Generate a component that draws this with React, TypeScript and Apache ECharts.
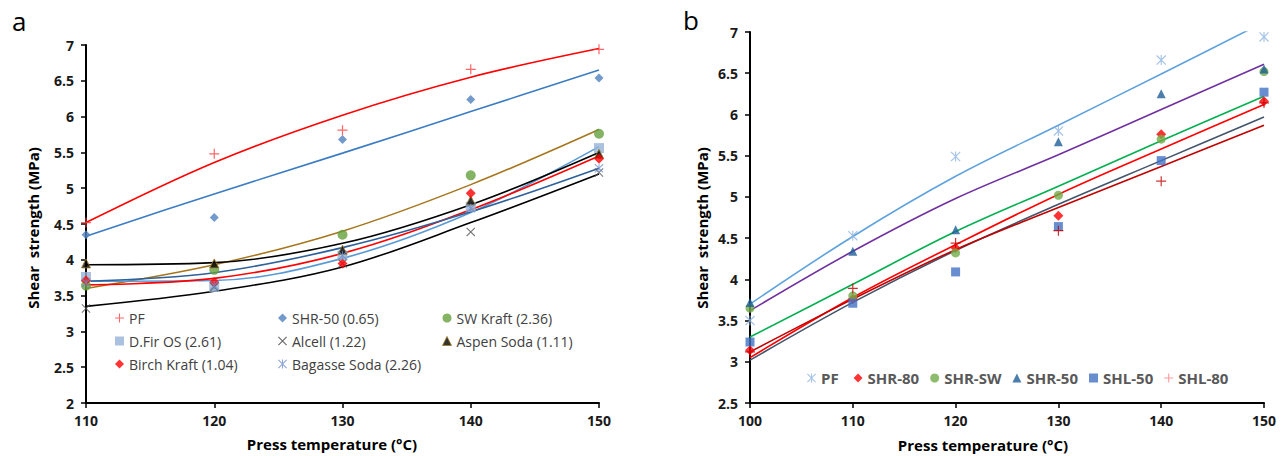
import React, { useEffect, useRef } from "react";
import * as echarts from "echarts";

// ---- panel a: press temperature vs shear strength, various lignins ----
const tempsA = [110, 120, 130, 140, 150];
const yTicksA = { min: 2, max: 7, step: 0.5 };

const pfA = [4.52, 5.48, 5.81, 6.66, 6.94];
const shr50A = [4.35, 4.59, 5.68, 6.24, 6.54];
const swKraftA = [3.64, 3.86, 4.35, 5.18, 5.76];
const dFirA = [3.76, 3.62, 4.06, 4.74, 5.56];
const alcellA = [3.32, 3.62, 3.95, 4.39, 5.22];
const aspenA = [3.95, 3.95, 4.14, 4.83, 5.48];
const birchA = [3.71, 3.69, 3.95, 4.93, 5.41];
const bagasseA = [3.68, 3.64, 4.06, 4.72, 5.28];

// trend lines of panel a
const pfTrendA = [4.52, 5.36, 6.02, 6.55, 6.95];
const shr50TrendA = [4.33, 4.92, 5.49, 6.07, 6.65];
const swKraftTrendA = [3.6, 3.93, 4.4, 5.05, 5.82];
const dFirTrendA = [3.7, 3.71, 4.02, 4.66, 5.58];
const alcellTrendA = [3.35, 3.56, 3.9, 4.52, 5.2];
const aspenTrendA = [3.93, 3.96, 4.23, 4.77, 5.5];
const birchTrendA = [3.65, 3.74, 4.09, 4.7, 5.45];
const bagasseTrendA = [3.7, 3.82, 4.17, 4.67, 5.28];

// ---- panel b: PF vs SHR / SHL formulations ----
const tempsB = [100, 110, 120, 130, 140, 150];
const yTicksB = { min: 2.5, max: 7, step: 0.5 };

const pfB = [3.5, 4.53, 5.49, 5.8, 6.66, 6.94];
const shr80B = [3.14, 3.76, 4.38, 4.77, 5.76, 6.16];
const shrSwB = [3.65, 3.8, 4.32, 5.02, 5.7, 6.52];
const shr50B = [3.72, 4.34, 4.6, 5.67, 6.25, 6.55];
const shl50B = [3.24, 3.71, 4.09, 4.64, 5.44, 6.27];
const shl80B = [3.12, 3.89, 4.44, 4.59, 5.19, 6.14];

// trend lines of panel b
const pfTrendB = [3.7, 4.52, 5.25, 5.87, 6.49, 7.12];
const shr80TrendB = [3.05, 3.78, 4.42, 5.03, 5.58, 6.12];
const shrSwTrendB = [3.3, 3.94, 4.58, 5.13, 5.68, 6.22];
const shr50TrendB = [3.62, 4.34, 4.98, 5.51, 6.06, 6.61];
const shl50TrendB = [3.02, 3.72, 4.35, 4.91, 5.44, 5.97];
const shl80TrendB = [3.12, 3.76, 4.36, 4.87, 5.37, 5.87];

const FONT = '"Open Sans", "Noto Sans", sans-serif';

// marker shapes
const plusSym = "path://M4.4,0H5.6V4.4H10V5.6H5.6V10H4.4V5.6H0V4.4H4.4Z";
const crossBody = "M0,0.85L0.85,0L10,9.15L9.15,10Z M9.15,0L10,0.85L0.85,10L0,9.15Z";
const crossSym = "path://" + crossBody;
const starSym = "path://" + crossBody + " M4.45,0H5.55V10H4.45Z";

const pts = (xs: number[], ys: number[]) => xs.map((x, i) => [x, ys[i]]);

function trend(name: string, xs: number[], ys: number[], color: string, idx: number) {
  return {
    type: "line",
    name,
    xAxisIndex: idx,
    yAxisIndex: idx,
    data: pts(xs, ys),
    smooth: 0.35,
    symbol: "none",
    showSymbol: false,
    silent: true,
    clip: true,
    lineStyle: { color, width: 1.6 },
    z: 2,
  };
}

function marks(
  name: string,
  xs: number[],
  ys: number[],
  symbol: string,
  size: number,
  color: string,
  idx: number,
  extra: Record<string, unknown> = {}
) {
  return {
    type: "scatter",
    name,
    xAxisIndex: idx,
    yAxisIndex: idx,
    data: pts(xs, ys),
    symbol,
    symbolSize: size,
    itemStyle: { color, ...extra },
    silent: true,
    z: 3,
  };
}

function xAxis(idx: number, min: number, max: number) {
  return {
    gridIndex: idx,
    type: "value",
    min,
    max,
    interval: 10,
    axisLine: { show: true, lineStyle: { color: "#000", width: 2 } },
    axisTick: { show: true, length: 5, lineStyle: { color: "#000", width: 1.5 } },
    axisLabel: { fontFamily: FONT, fontSize: 14, fontWeight: "bold", color: "#1a1a1a", margin: 10 },
    splitLine: { show: false },
  };
}

function yAxis(idx: number, t: { min: number; max: number; step: number }) {
  return {
    gridIndex: idx,
    type: "value",
    min: t.min,
    max: t.max,
    interval: t.step,
    axisLine: { show: true, lineStyle: { color: "#000", width: 2 } },
    axisTick: { show: true, length: 5, lineStyle: { color: "#000", width: 1.5 } },
    axisLabel: { fontFamily: FONT, fontSize: 14, fontWeight: "bold", color: "#1a1a1a", margin: 12 },
    splitLine: { show: false },
  };
}

const legendA = (left: number, items: { name: string; icon: string; itemStyle: Record<string, unknown> }[]) => ({
  orient: "vertical",
  left,
  top: 310,
  padding: 0,
  itemGap: 7,
  itemWidth: 9,
  itemHeight: 9,
  selectedMode: false,
  textStyle: { fontFamily: FONT, fontSize: 14, color: "#404040", lineHeight: 16 },
  data: items,
});

export default function App() {
  const ref = useRef<HTMLDivElement>(null);

  useEffect(() => {
    if (!ref.current) return;
    const chart = echarts.init(ref.current, undefined, { renderer: "svg" });

    const option = {
      animation: false,
      backgroundColor: "#fff",
      grid: [
        { left: 86, top: 45, width: 513, height: 358 },
        { left: 750, top: 32, width: 514, height: 371 },
      ],
      xAxis: [xAxis(0, 110, 150), xAxis(1, 100, 150)],
      yAxis: [yAxis(0, yTicksA), yAxis(1, yTicksB)],
      legend: [
        legendA(115, [
          { name: "PF", icon: plusSym, itemStyle: { color: "#FF4040" } },
          { name: "D.Fir OS (2.61)", icon: "rect", itemStyle: { color: "#95B3D7" } },
          { name: "Birch Kraft (1.04)", icon: "diamond", itemStyle: { color: "#FF0000" } },
        ]),
        legendA(278, [
          { name: "SHR-50 (0.65)", icon: "diamond", itemStyle: { color: "#4F81BD" } },
          { name: "Alcell (1.22)", icon: crossSym, itemStyle: { color: "#404040" } },
          { name: "Bagasse Soda (2.26)", icon: starSym, itemStyle: { color: "#6E8FCB" } },
        ]),
        legendA(442, [
          { name: "SW Kraft (2.36)", icon: "circle", itemStyle: { color: "#64A03C" } },
          {
            name: "Aspen Soda (1.11)",
            icon: "triangle",
            itemStyle: { color: "#000", borderColor: "#9C7A2B", borderWidth: 1 },
          },
        ]),
        {
          orient: "horizontal",
          left: 807,
          top: 369,
          padding: 0,
          itemGap: 11,
          itemWidth: 9,
          itemHeight: 9,
          selectedMode: false,
          textStyle: { fontFamily: FONT, fontSize: 15, fontWeight: "bold", color: "#595959", lineHeight: 18 },
          data: [
            { name: "PF ", icon: starSym, itemStyle: { color: "#8DB4E2" } },
            { name: "SHR-80", icon: "diamond", itemStyle: { color: "#FF0000" } },
            { name: "SHR-SW", icon: "circle", itemStyle: { color: "#70AD47" } },
            { name: "SHR-50", icon: "triangle", itemStyle: { color: "#1F5E99" } },
            { name: "SHL-50", icon: "rect", itemStyle: { color: "#4472C4" } },
            { name: "SHL-80", icon: plusSym, itemStyle: { color: "#FF8080" } },
          ],
        },
      ],
      graphic: [
        {
          type: "text",
          x: 12,
          y: 21,
          style: { text: "a", font: `26px ${FONT}`, fill: "#000", align: "left", verticalAlign: "middle" },
        },
        {
          type: "text",
          x: 683,
          y: 20,
          style: { text: "b", font: `26px ${FONT}`, fill: "#000", align: "left", verticalAlign: "middle" },
        },
        {
          type: "text",
          x: 332,
          y: 444,
          style: { text: "Press temperature (°C)", font: `bold 15px ${FONT}`, fill: "#000", align: "center", verticalAlign: "middle" },
        },
        {
          type: "text",
          x: 983,
          y: 445,
          style: { text: "Press temperature (°C)", font: `bold 15px ${FONT}`, fill: "#000", align: "center", verticalAlign: "middle" },
        },
        {
          type: "text",
          x: 33,
          y: 228,
          rotation: Math.PI / 2,
          style: { text: "Shear  strength (MPa)", font: `bold 15px ${FONT}`, fill: "#000", align: "center", verticalAlign: "middle" },
        },
        {
          type: "text",
          x: 702,
          y: 228,
          rotation: Math.PI / 2,
          style: { text: "Shear  strength (MPa)", font: `bold 15px ${FONT}`, fill: "#000", align: "center", verticalAlign: "middle" },
        },
      ],
      series: [
        // panel a
        trend("PF trend", tempsA, pfTrendA, "#FF0000", 0),
        trend("SHR-50 (0.65) trend", tempsA, shr50TrendA, "#3C7CC2", 0),
        trend("SW Kraft (2.36) trend", tempsA, swKraftTrendA, "#A6761D", 0),
        trend("D.Fir OS (2.61) trend", tempsA, dFirTrendA, "#5B9BD5", 0),
        trend("Alcell (1.22) trend", tempsA, alcellTrendA, "#000000", 0),
        trend("Aspen Soda (1.11) trend", tempsA, aspenTrendA, "#000000", 0),
        trend("Birch Kraft (1.04) trend", tempsA, birchTrendA, "#FF0000", 0),
        trend("Bagasse Soda (2.26) trend", tempsA, bagasseTrendA, "#2E6099", 0),
        marks("PF", tempsA, pfA, plusSym, 10, "#FF4040", 0),
        marks("SHR-50 (0.65)", tempsA, shr50A, "diamond", 9, "#4F81BD", 0),
        marks("SW Kraft (2.36)", tempsA, swKraftA, "circle", 10, "#64A03C", 0),
        marks("D.Fir OS (2.61)", tempsA, dFirA, "rect", 10, "#95B3D7", 0),
        marks("Alcell (1.22)", tempsA, alcellA, crossSym, 9, "#595959", 0),
        marks("Aspen Soda (1.11)", tempsA, aspenA, "triangle", 9, "#000000", 0, {
          borderColor: "#9C7A2B",
          borderWidth: 1,
        }),
        marks("Birch Kraft (1.04)", tempsA, birchA, "diamond", 10, "#FF0000", 0),
        marks("Bagasse Soda (2.26)", tempsA, bagasseA, starSym, 9, "#6E8FCB", 0),
        // panel b
        trend("PF  trend", tempsB, pfTrendB, "#5FA2DD", 1),
        trend("SHR-50 trend", tempsB, shr50TrendB, "#7030A0", 1),
        trend("SHR-SW trend", tempsB, shrSwTrendB, "#00B050", 1),
        trend("SHR-80 trend", tempsB, shr80TrendB, "#FF0000", 1),
        trend("SHL-50 trend", tempsB, shl50TrendB, "#44546A", 1),
        trend("SHL-80 trend", tempsB, shl80TrendB, "#C00000", 1),
        marks("PF ", tempsB, pfB, starSym, 10, "#8DB4E2", 1),
        marks("SHR-80", tempsB, shr80B, "diamond", 10, "#FF0000", 1),
        marks("SHR-SW", tempsB, shrSwB, "circle", 9, "#70AD47", 1),
        marks("SHR-50", tempsB, shr50B, "triangle", 9, "#1F5E99", 1),
        marks("SHL-50", tempsB, shl50B, "rect", 9, "#4472C4", 1),
        marks("SHL-80", tempsB, shl80B, plusSym, 10, "#C00000", 1),
      ],
    };

    chart.setOption(option as any);
    return () => chart.dispose();
  }, []);

  return (
    <div
      ref={ref}
      style={{ position: "fixed", left: 0, top: 0, width: 1285, height: 456, background: "#fff" }}
    />
  );
}
